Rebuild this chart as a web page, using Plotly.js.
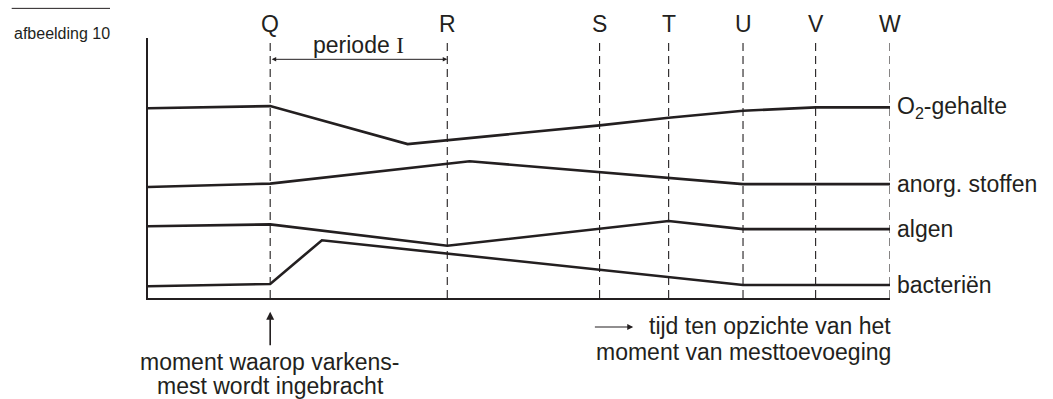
<!DOCTYPE html>
<html>
<head>
<meta charset="utf-8">
<script src="https://cdn.plot.ly/plotly-3.0.1.min.js"></script>
<style>html,body{margin:0;padding:0;background:#fff;}#chart{width:1053px;height:399px;}</style>
</head>
<body>
<div id="chart"></div>
<script>
// moments (time relative to manure addition at Q)
const momentLabels = ['Q', 'R', 'S', 'T', 'U', 'V', 'W'];
const momentPos = [0, 10, 18.6, 22.5, 26.7, 30.8, 35];

// series (relative level)
const o2X = [-6.9, 0, 7.76, 18.6, 22.5, 26.7, 30.8, 35];
const o2Y = [73.0, 73.8, 59.2, 66.4, 69.3, 72.0, 73.3, 73.3];
const anorgX = [-6.9, 0, 11.26, 18.6, 22.5, 26.7, 35];
const anorgY = [42.7, 44.0, 52.6, 48.3, 46.3, 43.8, 43.8];
const algenX = [-6.9, 0, 10, 22.5, 26.7, 35];
const algenY = [27.6, 28.3, 20.1, 29.6, 26.5, 26.5];
const bactX = [-6.9, 0, 2.92, 26.7, 35];
const bactY = [4.5, 5.4, 22.2, 5.0, 5.0];

const seriesNames = ['O<sub>2</sub>-gehalte', 'anorg. stoffen', 'algen', 'bacteriën'];
const seriesX = [o2X, anorgX, algenX, bactX];
const seriesY = [o2Y, anorgY, algenY, bactY];

const ink = '#231f20';
const FONT = 'Liberation Sans, Arial, sans-serif';
const FS = 23;

const traces = seriesX.map((xs, i) => ({
  x: xs, y: seriesY[i], type: 'scatter', mode: 'lines',
  line: {color: ink, width: 2.6}, hoverinfo: 'skip', showlegend: false
}));

const shapes = momentPos.map(p => ({
  type: 'line', xref: 'x', yref: 'paper', x0: p, x1: p, y0: 0, y1: 0.99,
  line: {color: ink, width: 1.1, dash: '8px,5px'}
}));
// rule above figure caption
shapes.push({type: 'line', xref: 'paper', yref: 'paper', x0: -0.1837, x1: -0.0512, y0: 1.114, y1: 1.114,
  line: {color: ink, width: 1}});

const annotations = [];
momentLabels.forEach((lab, i) => {
  annotations.push({x: momentPos[i], y: 1.054, xref: 'x', yref: 'paper', text: lab, showarrow: false,
    xanchor: 'center', yanchor: 'middle', font: {size: FS, color: ink, family: FONT}});
});
seriesNames.forEach((n, i) => {
  const xs = seriesX[i], ys = seriesY[i];
  annotations.push({x: xs[xs.length - 1], y: ys[ys.length - 1], xref: 'x', yref: 'y', text: n,
    showarrow: false, xanchor: 'left', yanchor: 'middle', xshift: 5,
    font: {size: FS, color: ink, family: FONT}});
});
// periode I
annotations.push({x: (momentPos[0] + momentPos[1]) / 2, y: 0.973, xref: 'x', yref: 'paper',
  text: 'periode <span style="font-family:Liberation Serif, Times New Roman, serif">I</span>',
  showarrow: false, xanchor: 'center', yanchor: 'middle', font: {size: FS, color: ink, family: FONT}});
annotations.push({x: momentPos[1], y: 0.918, xref: 'x', yref: 'paper', ax: momentPos[0], ay: 0,
  axref: 'x', ayref: 'pixel', text: '', showarrow: true, arrowside: 'end+start', arrowhead: 2,
  arrowsize: 0.9, arrowwidth: 1, arrowcolor: ink, standoff: 0, startstandoff: 0});
// manure moment arrow
annotations.push({x: momentPos[0], y: -0.0527, xref: 'x', yref: 'paper', ax: 0, ay: 35, text: '',
  showarrow: true, arrowhead: 2, arrowsize: 1, arrowwidth: 1.6, arrowcolor: ink, standoff: 0});
annotations.push({x: momentPos[0], y: -0.246, xref: 'x', yref: 'paper', text: 'moment waarop varkens-',
  showarrow: false, xanchor: 'center', yanchor: 'middle', font: {size: FS, color: ink, family: FONT}});
annotations.push({x: momentPos[0], y: -0.338, xref: 'x', yref: 'paper', text: 'mest wordt ingebracht',
  showarrow: false, xanchor: 'center', yanchor: 'middle', font: {size: FS, color: ink, family: FONT}});
// time arrow
annotations.push({x: 20.5, y: -0.1115, xref: 'x', yref: 'paper', ax: 18.25, ay: 0, axref: 'x', ayref: 'pixel',
  text: '', showarrow: true, arrowhead: 2, arrowsize: 1, arrowwidth: 1.2, arrowcolor: ink, standoff: 0});
annotations.push({x: momentPos[6], y: -0.108, xref: 'x', yref: 'paper', text: 'tijd ten opzichte van het',
  showarrow: false, xanchor: 'right', yanchor: 'middle', xshift: 3, font: {size: FS, color: ink, family: FONT}});
annotations.push({x: momentPos[6], y: -0.208, xref: 'x', yref: 'paper', text: 'moment van mesttoevoeging',
  showarrow: false, xanchor: 'right', yanchor: 'middle', xshift: 3, font: {size: FS, color: ink, family: FONT}});
// caption
annotations.push({x: -0.1833, y: 1.019, xref: 'paper', yref: 'paper', text: 'afbeelding 10',
  showarrow: false, xanchor: 'left', yanchor: 'middle', font: {size: 16, color: ink, family: FONT}});

const layout = {
  width: 1053, height: 399,
  margin: {l: 148, r: 163, t: 38, b: 101, pad: 0},
  paper_bgcolor: '#fff', plot_bgcolor: '#fff',
  showlegend: false, hovermode: false,
  font: {family: FONT, color: ink},
  xaxis: {range: [-6.9, 35], showgrid: false, zeroline: false, showticklabels: false, ticks: '',
    showline: true, linecolor: ink, linewidth: 1.6, fixedrange: true},
  yaxis: {range: [0, 100], showgrid: false, zeroline: false, showticklabels: false, ticks: '',
    showline: true, linecolor: ink, linewidth: 2, fixedrange: true},
  shapes: shapes,
  annotations: annotations
};

Plotly.newPlot('chart', traces, layout, {displayModeBar: false, staticPlot: true});
</script>
</body>
</html>
